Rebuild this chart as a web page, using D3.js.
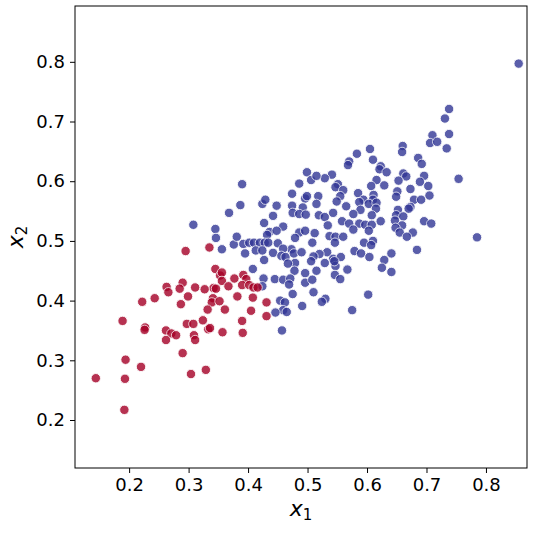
<!DOCTYPE html>
<html><head><meta charset="utf-8">
<script src="https://cdn.jsdelivr.net/npm/d3@7"></script>
<style>body{margin:0;background:#fff;} text{font-family:"DejaVu Sans",sans-serif;}</style>
</head><body><svg id="c" width="547" height="534"></svg>
<script>
const xTicks = [0.2, 0.3, 0.4, 0.5, 0.6, 0.7, 0.8];
const yTicks = [0.2, 0.3, 0.4, 0.5, 0.6, 0.7, 0.8];
const xDomain = [0.109, 0.869];
const yDomain = [0.1196, 0.8935];
const classColors = {red: "#a50026", blue: "#313695"};

const redPoints = [[0.295,0.483],[0.335,0.489],[0.345,0.453],[0.353,0.442],[0.356,0.447],[0.356,0.433],[0.377,0.437],[0.367,0.424],[0.342,0.421],[0.346,0.420],[0.327,0.419],[0.311,0.422],[0.290,0.430],[0.285,0.420],[0.263,0.423],[0.266,0.414],[0.299,0.407],[0.287,0.394],[0.243,0.404],[0.222,0.398],[0.341,0.404],[0.339,0.397],[0.352,0.399],[0.332,0.385],[0.361,0.385],[0.382,0.407],[0.189,0.366],[0.227,0.355],[0.226,0.351],[0.262,0.350],[0.271,0.345],[0.279,0.342],[0.262,0.334],[0.297,0.361],[0.308,0.361],[0.324,0.367],[0.333,0.352],[0.336,0.354],[0.357,0.347],[0.309,0.342],[0.311,0.334],[0.290,0.312],[0.194,0.301],[0.220,0.289],[0.144,0.270],[0.193,0.269],[0.304,0.277],[0.329,0.284],[0.192,0.217],[0.392,0.443],[0.397,0.436],[0.390,0.426],[0.402,0.426],[0.409,0.422],[0.416,0.422],[0.408,0.405],[0.431,0.397],[0.405,0.383],[0.431,0.374],[0.390,0.366],[0.391,0.346]];

const bluePoints = [[0.368,0.547],[0.308,0.527],[0.345,0.520],[0.346,0.505],[0.376,0.494],[0.356,0.486],[0.381,0.507],
[0.390,0.595],[0.499,0.615],[0.486,0.596],[0.474,0.579],[0.506,0.602],[0.387,0.560],[0.424,0.562],[0.429,0.569],[0.448,0.559],[0.474,0.559],[0.496,0.571],[0.499,0.575],
[0.605,0.654],[0.583,0.646],[0.570,0.633],[0.568,0.627],[0.610,0.636],[0.623,0.625],[0.621,0.620],[0.633,0.615],[0.541,0.611],[0.529,0.605],[0.515,0.609],[0.616,0.602],[0.629,0.593],[0.607,0.592],[0.551,0.595],[0.547,0.590],[0.560,0.585],[0.518,0.575],[0.585,0.580],[0.611,0.577],[0.594,0.569],[0.610,0.569],[0.555,0.575],
[0.710,0.677],[0.738,0.679],[0.706,0.664],[0.718,0.666],[0.734,0.655],[0.660,0.659],[0.659,0.649],[0.686,0.639],[0.692,0.629],[0.661,0.613],[0.666,0.608],[0.653,0.601],[0.696,0.609],[0.689,0.599],[0.703,0.592],[0.673,0.587],[0.754,0.604],[0.651,0.583],[0.649,0.574],[0.705,0.576],[0.679,0.569],[0.691,0.569],
[0.855,0.797],[0.738,0.721],[0.731,0.705],[0.785,0.506],
[0.492,0.556],[0.475,0.547],[0.486,0.545],[0.497,0.544],[0.442,0.542],[0.427,0.530],[0.459,0.524],[0.436,0.515],[0.448,0.517],[0.432,0.510],[0.486,0.514],[0.496,0.517],[0.479,0.505],[0.392,0.495],[0.402,0.497],[0.410,0.497],[0.420,0.497],[0.428,0.497],[0.434,0.497],[0.413,0.484],[0.424,0.484],[0.442,0.480],[0.450,0.496],[0.473,0.486],[0.459,0.487],[0.456,0.475],[0.463,0.473],[0.477,0.479],[0.490,0.481],[0.395,0.479],[0.427,0.468],[0.479,0.463],[0.467,0.462],[0.408,0.453],[0.478,0.450],[0.496,0.446],
[0.426,0.437],[0.445,0.436],[0.459,0.435],[0.471,0.437],[0.469,0.427],[0.496,0.430],[0.424,0.424],[0.475,0.411],[0.454,0.400],[0.462,0.397],[0.491,0.391],[0.459,0.384],[0.446,0.380],[0.465,0.381],[0.457,0.350],
[0.515,0.562],[0.549,0.566],[0.565,0.558],[0.587,0.565],[0.603,0.562],[0.616,0.564],[0.589,0.552],[0.615,0.554],[0.543,0.547],[0.577,0.545],[0.608,0.543],[0.519,0.543],[0.529,0.540],[0.558,0.533],[0.570,0.529],[0.587,0.529],[0.597,0.527],[0.608,0.527],[0.623,0.533],[0.534,0.526],[0.577,0.519],[0.603,0.517],[0.512,0.513],[0.537,0.508],[0.547,0.507],[0.560,0.507],[0.508,0.497],[0.546,0.497],[0.595,0.497],[0.610,0.500],[0.607,0.493],[0.579,0.483],[0.590,0.479],[0.604,0.473],[0.533,0.481],[0.520,0.478],[0.510,0.474],[0.543,0.470],[0.556,0.473],[0.529,0.463],[0.547,0.458],[0.545,0.466],[0.506,0.466],[0.629,0.468],[0.625,0.455],[0.567,0.452],[0.515,0.450],
[0.673,0.557],[0.670,0.554],[0.652,0.552],[0.649,0.543],[0.661,0.541],[0.647,0.534],[0.659,0.526],[0.648,0.522],[0.655,0.514],[0.677,0.514],[0.667,0.507],[0.696,0.533],[0.708,0.529],[0.684,0.485],[0.641,0.479],[0.641,0.448],
[0.508,0.435],[0.546,0.443],[0.555,0.436],[0.510,0.414],[0.530,0.403],[0.524,0.398],[0.602,0.410],[0.575,0.384]];

const L = 75, T = 6, R = 527, B = 468;
const svg = d3.select("#c");
const x = d3.scaleLinear().domain(xDomain).range([L, R]);
const y = d3.scaleLinear().domain(yDomain).range([B, T]);

const xAxis = svg.append("g").attr("transform", `translate(0,${B})`)
  .call(d3.axisBottom(x).tickValues(xTicks).tickFormat(d3.format(".1f")).tickSize(5).tickPadding(5));
const yAxis = svg.append("g").attr("transform", `translate(${L},0)`)
  .call(d3.axisLeft(y).tickValues(yTicks).tickFormat(d3.format(".1f")).tickSize(5).tickPadding(5));
[xAxis, yAxis].forEach(g => {
  g.select(".domain").remove();
  g.selectAll(".tick line").attr("stroke", "#000").attr("stroke-width", 1);
  g.selectAll(".tick text").attr("font-size", 18).attr("fill", "#000").attr("font-family", "DejaVu Sans");
});

const pts = svg.append("g");
function drawClass(data, color) {
  pts.selectAll(null).data(data).enter().append("circle")
    .attr("cx", d => x(d[0])).attr("cy", d => y(d[1]))
    .attr("r", 4.7)
    .attr("fill", color).attr("stroke", "#fff").attr("stroke-width", 0.9)
    .attr("opacity", 0.8);
}
drawClass(bluePoints, classColors.blue);
drawClass(redPoints, classColors.red);

svg.append("rect").attr("x", L).attr("y", T).attr("width", R - L).attr("height", B - T)
  .attr("fill", "none").attr("stroke", "#000").attr("stroke-width", 1);

const xl = svg.append("text").attr("x", (L + R) / 2).attr("y", 516).attr("text-anchor", "middle").attr("font-size", 22);
xl.append("tspan").attr("font-style", "italic").text("x");
xl.append("tspan").attr("font-size", 15).attr("dy", 4).text("1");

const yl = svg.append("text").attr("transform", `translate(23,${(T + B) / 2}) rotate(-90)`).attr("text-anchor", "middle").attr("font-size", 22);
yl.append("tspan").attr("font-style", "italic").text("x");
yl.append("tspan").attr("font-size", 15).attr("dy", 4).text("2");
</script></body></html>
